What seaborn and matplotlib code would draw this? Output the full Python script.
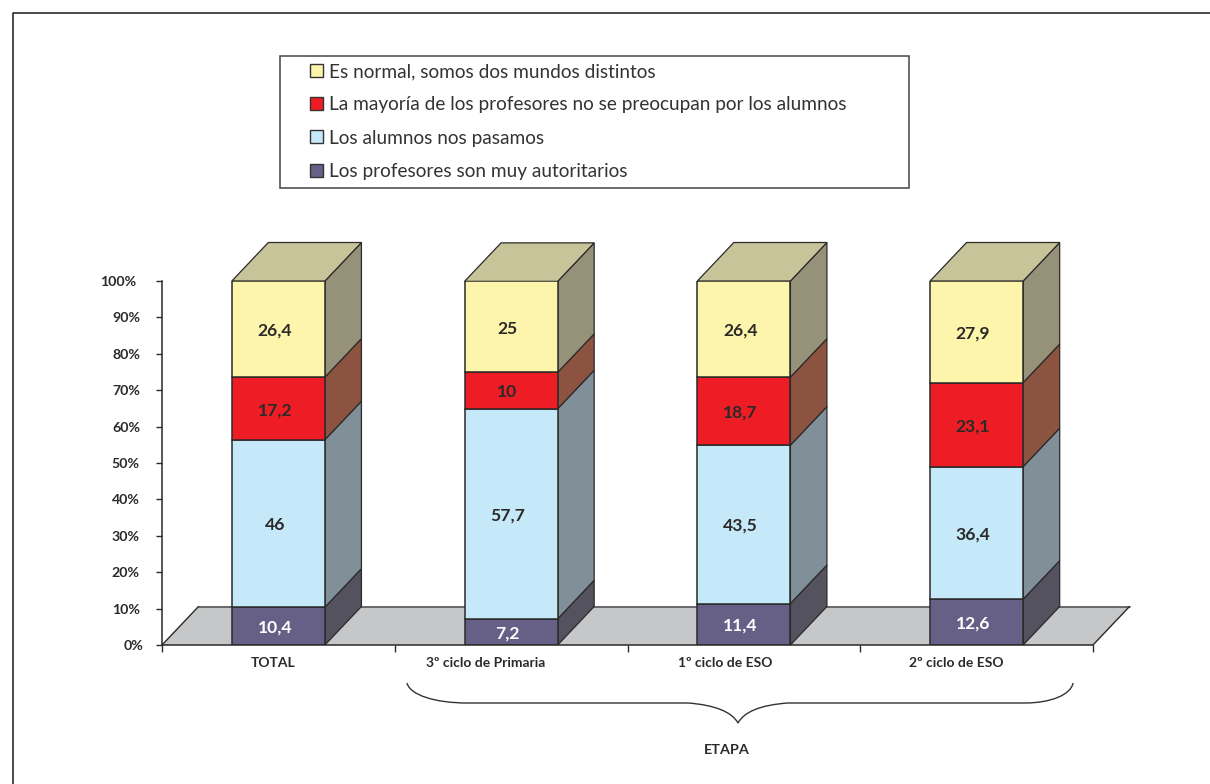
import matplotlib
matplotlib.use("Agg")
import matplotlib.pyplot as plt
import pandas as pd
import seaborn as sns
from matplotlib.lines import Line2D
from matplotlib.patches import PathPatch, Patch, Polygon, Rectangle
from matplotlib.path import Path
from matplotlib.transforms import ScaledTranslation

# Survey answers, in percent, by school stage
etapas = ["TOTAL", "3º ciclo de Primaria", "1º ciclo de ESO", "2º ciclo de ESO"]
autoritarios = [10.4, 7.2, 11.4, 12.6]
pasamos = [46, 57.7, 43.5, 36.4]
no_preocupan = [17.2, 10, 18.7, 23.1]
normal = [26.4, 25, 26.4, 27.9]

# Text printed on each segment, with the decimal comma
text_autoritarios = ["10,4", "7,2", "11,4", "12,6"]
text_pasamos = ["46", "57,7", "43,5", "36,4"]
text_no_preocupan = ["17,2", "10", "18,7", "23,1"]
text_normal = ["26,4", "25", "26,4", "27,9"]

series_names = [
    "Los profesores son muy autoritarios",
    "Los alumnos nos pasamos",
    "La mayoría de los profesores no se preocupan por los alumnos",
    "Es normal, somos dos mundos distintos",
]
y_ticks = [0, 10, 20, 30, 40, 50, 60, 70, 80, 90, 100]

FRONT = ["#665F86", "#C6E9FA", "#EE1C25", "#FDF5AC"]
SIDE = ["#54525F", "#808F98", "#8C5340", "#96927A"]
TOP = "#C8C49A"
FLOOR = "#C6C7C9"
INK = "#2B2A29"

W, H = 1210, 784
sns.set_theme(style="white")
plt.rcParams["font.family"] = ["Lato", "DejaVu Sans"]

fig = plt.figure(figsize=(W / 100, H / 100), dpi=100, facecolor="white")
ax = fig.add_axes([162 / W, (H - 645) / H, 931 / W, 364 / H])
ax.patch.set_alpha(0)


def fig_xy(px, py):
    return px / W, 1 - py / H


# Page rule along the top and the left
fig.add_artist(Line2D([1, 13 / W, 13 / W], [1 - 13 / H, 1 - 13 / H, 0],
                      color="#1A1A1A", lw=1.1))

BAR_W = 0.4
DX, DY = 36.5 / (931 / 4), 38.5 / 3.64

# Grey floor behind the bars
ax.add_patch(Polygon([(-0.5, 0), (3.5, 0), (3.5 + DX, DY), (-0.5 + DX, DY)],
                     closed=True, fc=FLOOR, ec="none", zorder=0.5, clip_on=False))
ax.plot([-0.5 + DX, 3.5 + DX], [DY, DY], color="#55565A", lw=1.2, zorder=0.6, clip_on=False)
ax.plot([-0.5, -0.5 + DX], [0, DY], color=INK, lw=1, zorder=0.6, clip_on=False)
ax.plot([3.5, 3.5 + DX], [0, DY], color=INK, lw=1, zorder=0.6, clip_on=False)

values = [autoritarios, pasamos, no_preocupan, normal]
texts = [text_autoritarios, text_pasamos, text_no_preocupan, text_normal]

bottoms = [0.0] * len(etapas)
for k, (vals, labels) in enumerate(zip(values, texts)):
    frame = pd.DataFrame({"etapa": etapas, "valor": vals})
    sns.barplot(data=frame, x="etapa", y="valor", bottom=bottoms, color=FRONT[k],
                saturation=1, width=BAR_W, edgecolor=INK, linewidth=1.1,
                ax=ax, zorder=3, err_kws={"linewidth": 0})
    for i, v in enumerate(vals):
        b = bottoms[i]
        x1 = i + BAR_W / 2
        # Right-hand face of this segment
        ax.add_patch(Polygon([(x1, b), (x1 + DX, b + DY), (x1 + DX, b + v + DY), (x1, b + v)],
                             closed=True, fc=SIDE[k], ec=INK, lw=0.9, zorder=2.5, clip_on=False))
        ax.annotate(labels[i], (i, b + v / 2), xytext=(-2.6, -1.2), textcoords="offset points",
                    ha="center", va="center", fontsize=12.6, fontweight="bold",
                    color="white" if k == 0 else INK, zorder=5)
    bottoms = [b + v for b, v in zip(bottoms, vals)]

# Lid of each column
for i, total in enumerate(bottoms):
    x0, x1 = i - BAR_W / 2, i + BAR_W / 2
    ax.add_patch(Polygon([(x0, total), (x1, total), (x1 + DX, total + DY), (x0 + DX, total + DY)],
                         closed=True, fc=TOP, ec=INK, lw=0.9, zorder=2.5, clip_on=False))

ax.set_xlim(-0.5, 3.5)
ax.set_ylim(0, 100)
ax.set_xlabel("")
ax.set_ylabel("")
sns.despine(ax=ax, top=True, right=True)
for side in ("left", "bottom"):
    ax.spines[side].set_color(INK)
    ax.spines[side].set_linewidth(1.1)
    ax.spines[side].set_zorder(4)

# Value axis
ax.set_yticks(y_ticks)
ax.set_yticklabels([f"{t}%" for t in y_ticks], fontsize=10.2, fontweight="bold", color=INK)
ax.tick_params(axis="y", left=True, length=4.5, width=1, color=INK, pad=11.4)
for t, lab in zip(y_ticks, ax.get_yticklabels()):
    shift = {0: 3.5, 100: -3.5}.get(t, 0)
    lab.set_transform(lab.get_transform() + ScaledTranslation(shift / 100, 0, fig.dpi_scale_trans))

# Category axis: ticks between the columns, names set a little left of each column
ax.set_xticks([-0.5, 0.5, 1.5, 2.5, 3.5])
ax.set_xticklabels([])
ax.tick_params(axis="x", bottom=True, length=5, width=1, color=INK)
name_shift = [-5, -26, -19, -20]
for i, name in enumerate(etapas):
    ax.annotate(name, (i, 0), xytext=(name_shift[i] * 0.72, -12.8), textcoords="offset points",
                ha="center", va="center", fontsize=10, fontweight="bold", color=INK,
                annotation_clip=False)

# Brace grouping the school stages
P = [
    (407, 683), (410, 695), (435, 703), (467, 703),
    (688, 703), (715, 705), (732, 712), (738, 723),
    (744, 712), (760, 705), (788, 703),
    (1025, 703), (1050, 703), (1071, 695), (1073, 683),
]
codes = [Path.MOVETO, Path.CURVE4, Path.CURVE4, Path.CURVE4,
         Path.LINETO, Path.CURVE4, Path.CURVE4, Path.CURVE4,
         Path.CURVE4, Path.CURVE4, Path.CURVE4,
         Path.LINETO, Path.CURVE4, Path.CURVE4, Path.CURVE4]
fig.add_artist(PathPatch(Path([fig_xy(*p) for p in P], codes), fc="none", ec="#333333",
                         lw=1, transform=fig.transFigure))
fig.text(*fig_xy(727, 750), "ETAPA", ha="center", va="center", fontsize=10.4,
         fontweight="bold", color=INK)

# Legend, inside its own wide box
x0, y1 = fig_xy(280, 188)
x1, y0 = fig_xy(909, 56)
fig.add_artist(Rectangle((x0, y1), x1 - x0, y0 - y1, fc="white", ec="#444444", lw=1.1,
                         transform=fig.transFigure, zorder=1))
handles = [Patch(fc=FRONT[k], ec="#333333", lw=1, label=series_names[k]) for k in (3, 2, 1, 0)]
fig.legend(handles=handles, loc="center left", bbox_to_anchor=fig_xy(293, 121.5), frameon=False,
           fontsize=13.7, handlelength=0.68, handleheight=0.68, handletextpad=0.3,
           labelspacing=0.85, labelcolor="#333333").set_zorder(2)

fig.savefig("out.png", dpi=100, facecolor="white")
